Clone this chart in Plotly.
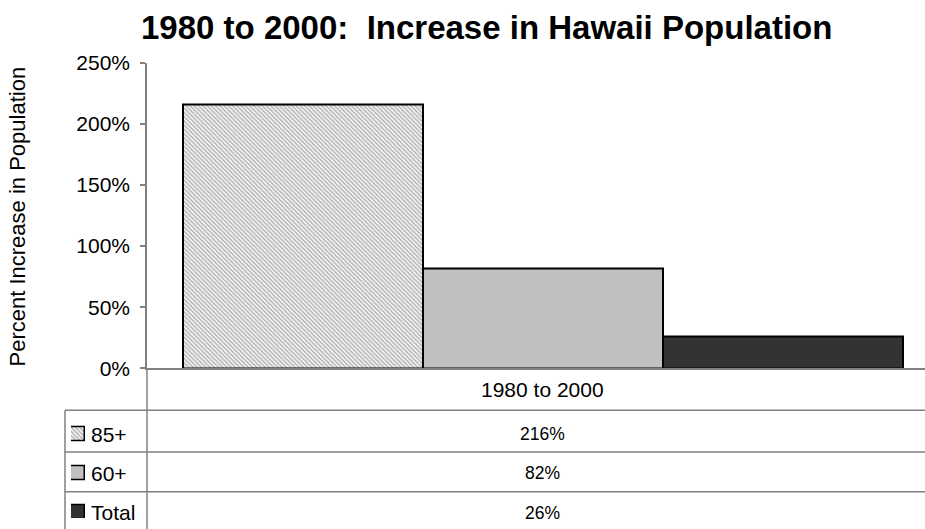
import plotly.graph_objects as go

# Data
period = "1980 to 2000"
groups = ["85+", "60+", "Total"]
increase_pct = [216, 82, 26]
y_ticks = [0, 50, 100, 150, 200, 250]

W, H = 925, 529
FONT = "Liberation Sans, Arial, sans-serif"
GRID = "#808080"

# vertical placement: rendered plot area starts a little below the page top
Y_OFF, Y_SCALE = 9.1, 0.963


def fx(p):
    """pixel x -> paper x"""
    return p / W


def fy(p):
    """page pixel y (from top) -> paper y"""
    return 1 - (p - Y_OFF) / (H * Y_SCALE)


styles = [
    dict(color="#e8e8e8",
         pattern=dict(shape="\\", fgcolor="#aaaaaa", bgcolor="#f3f3f3",
                      size=3, solidity=0.4, fillmode="replace")),
    dict(color="#c0c0c0"),
    dict(color="#333333"),
]

fig = go.Figure()

# Main bars, one per group, sharing the single period category
for i, (g, v) in enumerate(zip(groups, increase_pct)):
    fig.add_trace(go.Bar(
        x=[i], y=[v], width=[1], name=g, showlegend=False,
        marker=dict(**styles[i], line=dict(color="black", width=2)),
        hoverinfo="skip",
    ))

# Legend keys inside the data table
for i, g in enumerate(groups):
    fig.add_trace(go.Bar(
        x=[1], y=[i], width=[0.36], orientation="h", xaxis="x2", yaxis="y2",
        showlegend=False, hoverinfo="skip",
        marker=dict(**styles[i], line=dict(color="black", width=1.5)),
    ))

# key rows: first row centred at 434px, 39.5px apart
row0, row_h = 434, 39.5
y2_top = (410 - row0) / row_h
y2_bot = (H * Y_SCALE + Y_OFF - row0) / row_h

fig.update_layout(
    width=W, height=H,
    margin=dict(l=0, r=0, t=0, b=0),
    paper_bgcolor="white", plot_bgcolor="white",
    barmode="overlay", bargap=0,
    font=dict(family=FONT, color="black", size=21),
    xaxis=dict(domain=[fx(147), 1], range=[-0.65, 2.592],
               showticklabels=False, ticks="", showgrid=False, zeroline=False,
               showline=True, linecolor=GRID, linewidth=1.5, fixedrange=True),
    yaxis=dict(domain=[fy(368), fy(60)], range=[0, 250], tickvals=y_ticks,
               ticktext=[f"{t}%" for t in y_ticks],
               ticks="outside", ticklen=5, tickcolor=GRID,
               tickwidth=1.5, showgrid=False, zeroline=False, showline=True,
               linecolor=GRID, linewidth=1.5, tickfont=dict(size=21),
               ticklabelstandoff=6, fixedrange=True),
    xaxis2=dict(domain=[fx(71), fx(85)], range=[0, 1], visible=False,
                fixedrange=True),
    yaxis2=dict(domain=[0, fy(410)], range=[y2_bot, y2_top], visible=False,
                fixedrange=True),
)

line = dict(color=GRID, width=1.5)
shapes = []
# y axis continues down through the table
shapes.append(dict(type="line", xref="paper", yref="paper",
                   x0=fx(147), x1=fx(147), y0=fy(368), y1=-0.05, line=line))
# table outer left border
shapes.append(dict(type="line", xref="paper", yref="paper",
                   x0=fx(65), x1=fx(65), y0=fy(410), y1=-0.05, line=line))
# row separators
for yy in (410, 452, 492):
    shapes.append(dict(type="line", xref="paper", yref="paper",
                       x0=fx(65), x1=1, y0=fy(yy), y1=fy(yy), line=line))
fig.update_layout(shapes=shapes)

center = (len(groups) - 1) / 2
ann = []
ann.append(dict(text="<b>1980 to 2000:\u00a0 Increase in Hawaii Population</b>",
                xref="paper", yref="paper", x=fx(487), y=fy(25),
                xanchor="center", yanchor="middle",
                showarrow=False, font=dict(size=33)))
ann.append(dict(text="Percent Increase in Population", textangle=-90,
                xref="paper", yref="paper", x=fx(18), y=fy(215),
                xanchor="center", yanchor="middle",
                showarrow=False, font=dict(size=22)))
ann.append(dict(text=period, xref="x", yref="paper", x=center, y=fy(389),
                xanchor="center", yanchor="middle",
                showarrow=False, font=dict(size=21)))
for i, (g, v) in enumerate(zip(groups, increase_pct)):
    ann.append(dict(text=g, xref="paper", yref="y2", x=fx(89), y=i,
                    xanchor="left", yanchor="middle", showarrow=False,
                    font=dict(size=21)))
    ann.append(dict(text=f"{v}%", xref="x", yref="y2", x=center, y=i,
                    xanchor="center", yanchor="middle", showarrow=False,
                    font=dict(size=17.5)))
fig.update_layout(annotations=ann)

fig.write_html("out.html")
